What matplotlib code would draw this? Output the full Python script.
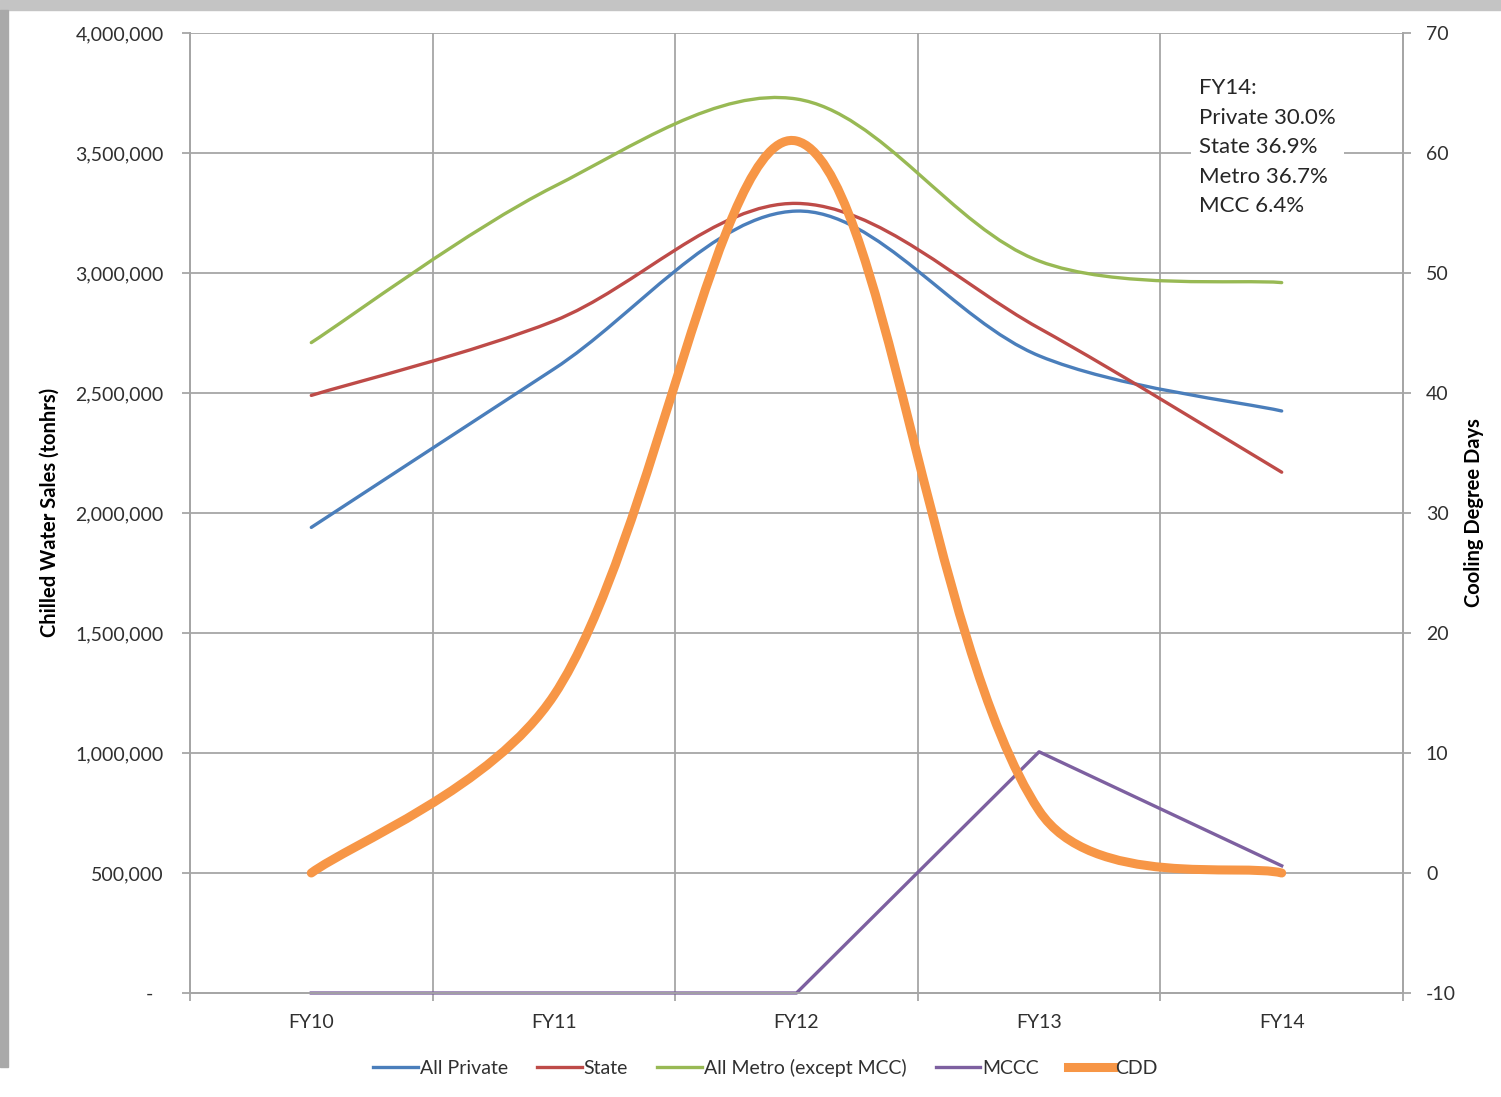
import matplotlib.pyplot as plt
import numpy as np
from matplotlib.path import Path
from matplotlib.patches import PathPatch, Rectangle
from matplotlib.lines import Line2D

# --- DATA ---
years = ['FY10', 'FY11', 'FY12', 'FY13', 'FY14']
all_private = [1940000, 2600000, 3258000, 2655000, 2425000]
state = [2490000, 2800000, 3290000, 2770000, 2170000]
all_metro = [2710000, 3360000, 3725000, 3050000, 2960000]
mccc = [0, 0, 0, 1005000, 530000]
cdd = [0, 14.8, 61.0, 5.2, 0]

left_ticks = [0, 500000, 1000000, 1500000, 2000000, 2500000, 3000000, 3500000, 4000000]
right_ticks = [-10, 0, 10, 20, 30, 40, 50, 60, 70]
note = "FY14:\nPrivate 30.0%\nState 36.9%\nMetro 36.7%\nMCC 6.4%"

# Excel 2007 palette
c_blue, c_red, c_green, c_purple, c_orange = '#4a7ebb', '#be4b48', '#98b954', '#7d60a0', '#f79646'
grid_c = '#a6a6a6'
txt_c = '#303030'

plt.rcParams['font.family'] = ['Lato', 'DejaVu Sans']
plt.rcParams['axes.unicode_minus'] = False

W, H = 1501, 1097
fig = plt.figure(figsize=(W / 100, H / 100), dpi=100)
fig.patch.set_facecolor('white')
# screenshot frame
fig.patches.append(Rectangle((0, 1 - 10 / H), 1, 10 / H, transform=fig.transFigure, color='#c4c4c4', zorder=0))
fig.patches.append(Rectangle((0, 1 - 1067 / H), 8 / W, 1057 / H, transform=fig.transFigure, color='#a9a9a9', zorder=0))

ax = fig.add_axes([190 / W, 1 - 993 / H, (1403 - 190) / W, (993 - 33) / H])
ax2 = ax.twinx()

x = np.arange(len(years))
ax.set_xlim(-0.5, len(years) - 0.5)
ax.set_ylim(0, 4000000)
ax2.set_ylim(-10, 70)


def smooth(axis, xs, ys, color, lw, z, p=0.7):
    # Excel-like smoothed line: cubic Bezier in screen space, tangent split by segment length
    pts = axis.transData.transform(np.column_stack([xs, ys]))
    n = len(pts)
    seg = np.hypot(*np.diff(pts, axis=0).T) ** p
    verts = [pts[0]]
    codes = [Path.MOVETO]
    for i in range(n - 1):
        p1, p2 = pts[i], pts[i + 1]
        if i == 0:
            c1 = p1 + (p2 - p1) / 6
        else:
            c1 = p1 + (p2 - pts[i - 1]) * seg[i] / (seg[i - 1] + seg[i]) / 3
        if i == n - 2:
            c2 = p2 - (p2 - p1) / 6
        else:
            c2 = p2 - (pts[i + 2] - p1) * seg[i] / (seg[i] + seg[i + 1]) / 3
        verts += [c1, c2, p2]
        codes += [Path.CURVE4] * 3
    verts = axis.transData.inverted().transform(np.array(verts))
    axis.add_patch(PathPatch(Path(verts, codes), fill=False, edgecolor=color, lw=lw,
                             capstyle='round', joinstyle='round', zorder=z))


smooth(ax, x, all_private, c_blue, 2.4, 3)
smooth(ax, x, state, c_red, 2.4, 3)
smooth(ax, x, all_metro, c_green, 2.4, 3)
ax.plot(x, mccc, color=c_purple, lw=2.4, zorder=3, clip_on=False)
smooth(ax2, x, cdd, c_orange, 6.5, 4)

# axes formatting
ax.set_xticks(np.arange(-0.5, len(years), 1.0))
ax.set_xticklabels([])
ax.set_xticks(x, minor=True)
ax.set_xticklabels(years, minor=True)
ax.tick_params(axis='x', which='major', length=6, color=grid_c, width=1.3, direction='out')
ax.tick_params(axis='x', which='minor', length=0, pad=15, labelsize=14, labelcolor=txt_c)
ax.set_yticks(left_ticks)
ax.set_yticklabels(['-  ' if v == 0 else f'{v:,.0f}' for v in left_ticks])
ax.tick_params(axis='y', length=6, color=grid_c, width=1.3, pad=13, labelsize=14, labelcolor=txt_c)
ax2.set_yticks(right_ticks)
ax2.tick_params(axis='y', length=6, color=grid_c, width=1.3, pad=10.5, labelsize=14, labelcolor=txt_c)

ax.grid(True, which='major', color=grid_c, lw=1.3)
ax.set_axisbelow(True)
for a in (ax, ax2):
    a.spines['top'].set_visible(False)
    for s in ('left', 'right', 'bottom'):
        a.spines[s].set_color(grid_c)
        a.spines[s].set_linewidth(1.3)

fig.text(50 / W, 1 - 512 / H, 'Chilled Water Sales (tonhrs)', rotation=90, ha='center', va='center',
         fontsize=14.5, fontweight='bold', color='black')
fig.text(1474 / W, 1 - 513 / H, 'Cooling Degree Days', rotation=90, ha='center', va='center',
         fontsize=14.5, fontweight='bold', color='black')

ax2.text(1199 / W, 1 - 78 / H, note, transform=fig.transFigure, ha='left', va='top', fontsize=16,
         color='#262626', linespacing=1.6, zorder=6,
         bbox=dict(boxstyle='square,pad=0.35', fc='white', ec='none'))

handles = [Line2D([], [], color=c_blue, lw=2.4), Line2D([], [], color=c_red, lw=2.4),
           Line2D([], [], color=c_green, lw=2.4), Line2D([], [], color=c_purple, lw=2.4),
           Line2D([], [], color=c_orange, lw=6.5)]
labels = ['All Private', 'State', 'All Metro (except MCC)', 'MCCC', 'CDD']
leg = fig.legend(handles, labels, loc='center', bbox_to_anchor=(765 / W, 1 - 1068 / H), ncol=5,
                 frameon=False, fontsize=14, handlelength=2.3, handletextpad=0.1, columnspacing=1.5)
for t in leg.get_texts():
    t.set_color(txt_c)

fig.savefig('out.png', dpi=100)
